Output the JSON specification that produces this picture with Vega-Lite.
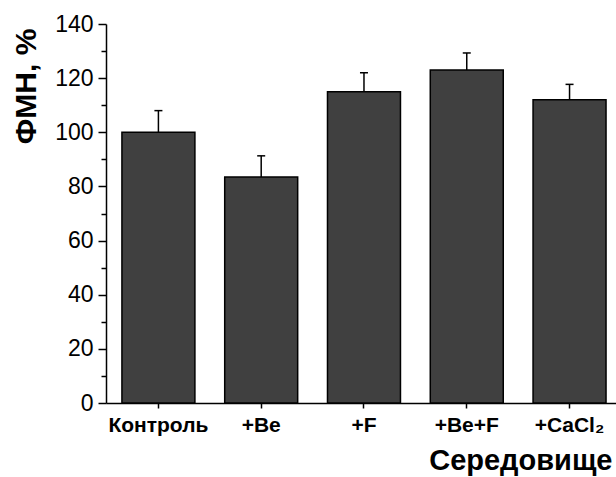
{
  "$schema": "https://vega.github.io/schema/vega-lite/v6.json",
  "width": 510,
  "height": 379,
  "autosize": {"type": "none"},
  "padding": {"left": 106, "top": 24, "right": 0, "bottom": 74},
  "background": "white",
  "config": {"view": {"stroke": null}, "font": "Liberation Sans"},
  "data": {
    "values": [
      {"env": "Контроль", "value": 100, "err": 108},
      {"env": "+Be", "value": 83.5, "err": 91.3},
      {"env": "+F", "value": 115, "err": 122},
      {"env": "+Be+F", "value": 123, "err": 129.3},
      {"env": "+CaCl₂", "value": 112, "err": 117.7}
    ]
  },
  "resolve": {"axis": {"y": "independent"}},
  "layer": [
    {
      "mark": {"type": "bar", "fill": "#404040", "stroke": "black", "strokeWidth": 1.5},
      "encoding": {
        "x": {
          "field": "env", "type": "nominal", "sort": null,
          "scale": {"paddingInner": 0.29, "paddingOuter": 0.126, "align": 0.615},
          "axis": {
            "labelAngle": 0, "labelFontSize": 21, "labelFontWeight": "bold", "labelColor": "black",
            "labelPadding": 6, "labelOverlap": false, "labelLimit": 300,
            "tickSize": 5, "tickWidth": 1.5, "tickColor": "black",
            "domainColor": "black", "domainWidth": 1.5,
            "title": "Середовище", "titleFontSize": 29, "titleFontWeight": "bold", "titleColor": "black",
            "titleAlign": "right", "titleBaseline": "alphabetic", "titleX": 506, "titleY": 66
          }
        },
        "y": {
          "field": "value", "type": "quantitative",
          "scale": {"domain": [0, 140], "nice": false},
          "axis": {
            "values": [0, 20, 40, 60, 80, 100, 120, 140], "grid": false,
            "tickSize": 8, "tickWidth": 1.5, "tickColor": "black",
            "domainColor": "black", "domainWidth": 1.5,
            "labelFontSize": 23, "labelColor": "black", "labelPadding": 5,
            "title": "ФМН, %", "titleFontSize": 30, "titleFontWeight": "bold", "titleColor": "black",
            "titleAngle": 270, "titleAlign": "center", "titleBaseline": "alphabetic",
            "titleX": -71, "titleY": 62
          }
        }
      }
    },
    {
      "mark": {"type": "rule", "stroke": "black", "strokeWidth": 1.5},
      "encoding": {
        "x": {"field": "env", "type": "nominal", "sort": null},
        "y": {"field": "value", "type": "quantitative", "axis": null},
        "y2": {"field": "err"}
      }
    },
    {
      "mark": {"type": "tick", "size": 8, "thickness": 1.5, "color": "black", "opacity": 1},
      "encoding": {
        "x": {"field": "env", "type": "nominal", "sort": null},
        "y": {
          "field": "err", "type": "quantitative",
          "axis": {
            "orient": "left", "values": [10, 30, 50, 70, 90, 110, 130], "labels": false,
            "domain": false, "grid": false, "tickSize": 5, "tickWidth": 1.5, "tickColor": "black",
            "title": null
          }
        }
      }
    }
  ]
}
